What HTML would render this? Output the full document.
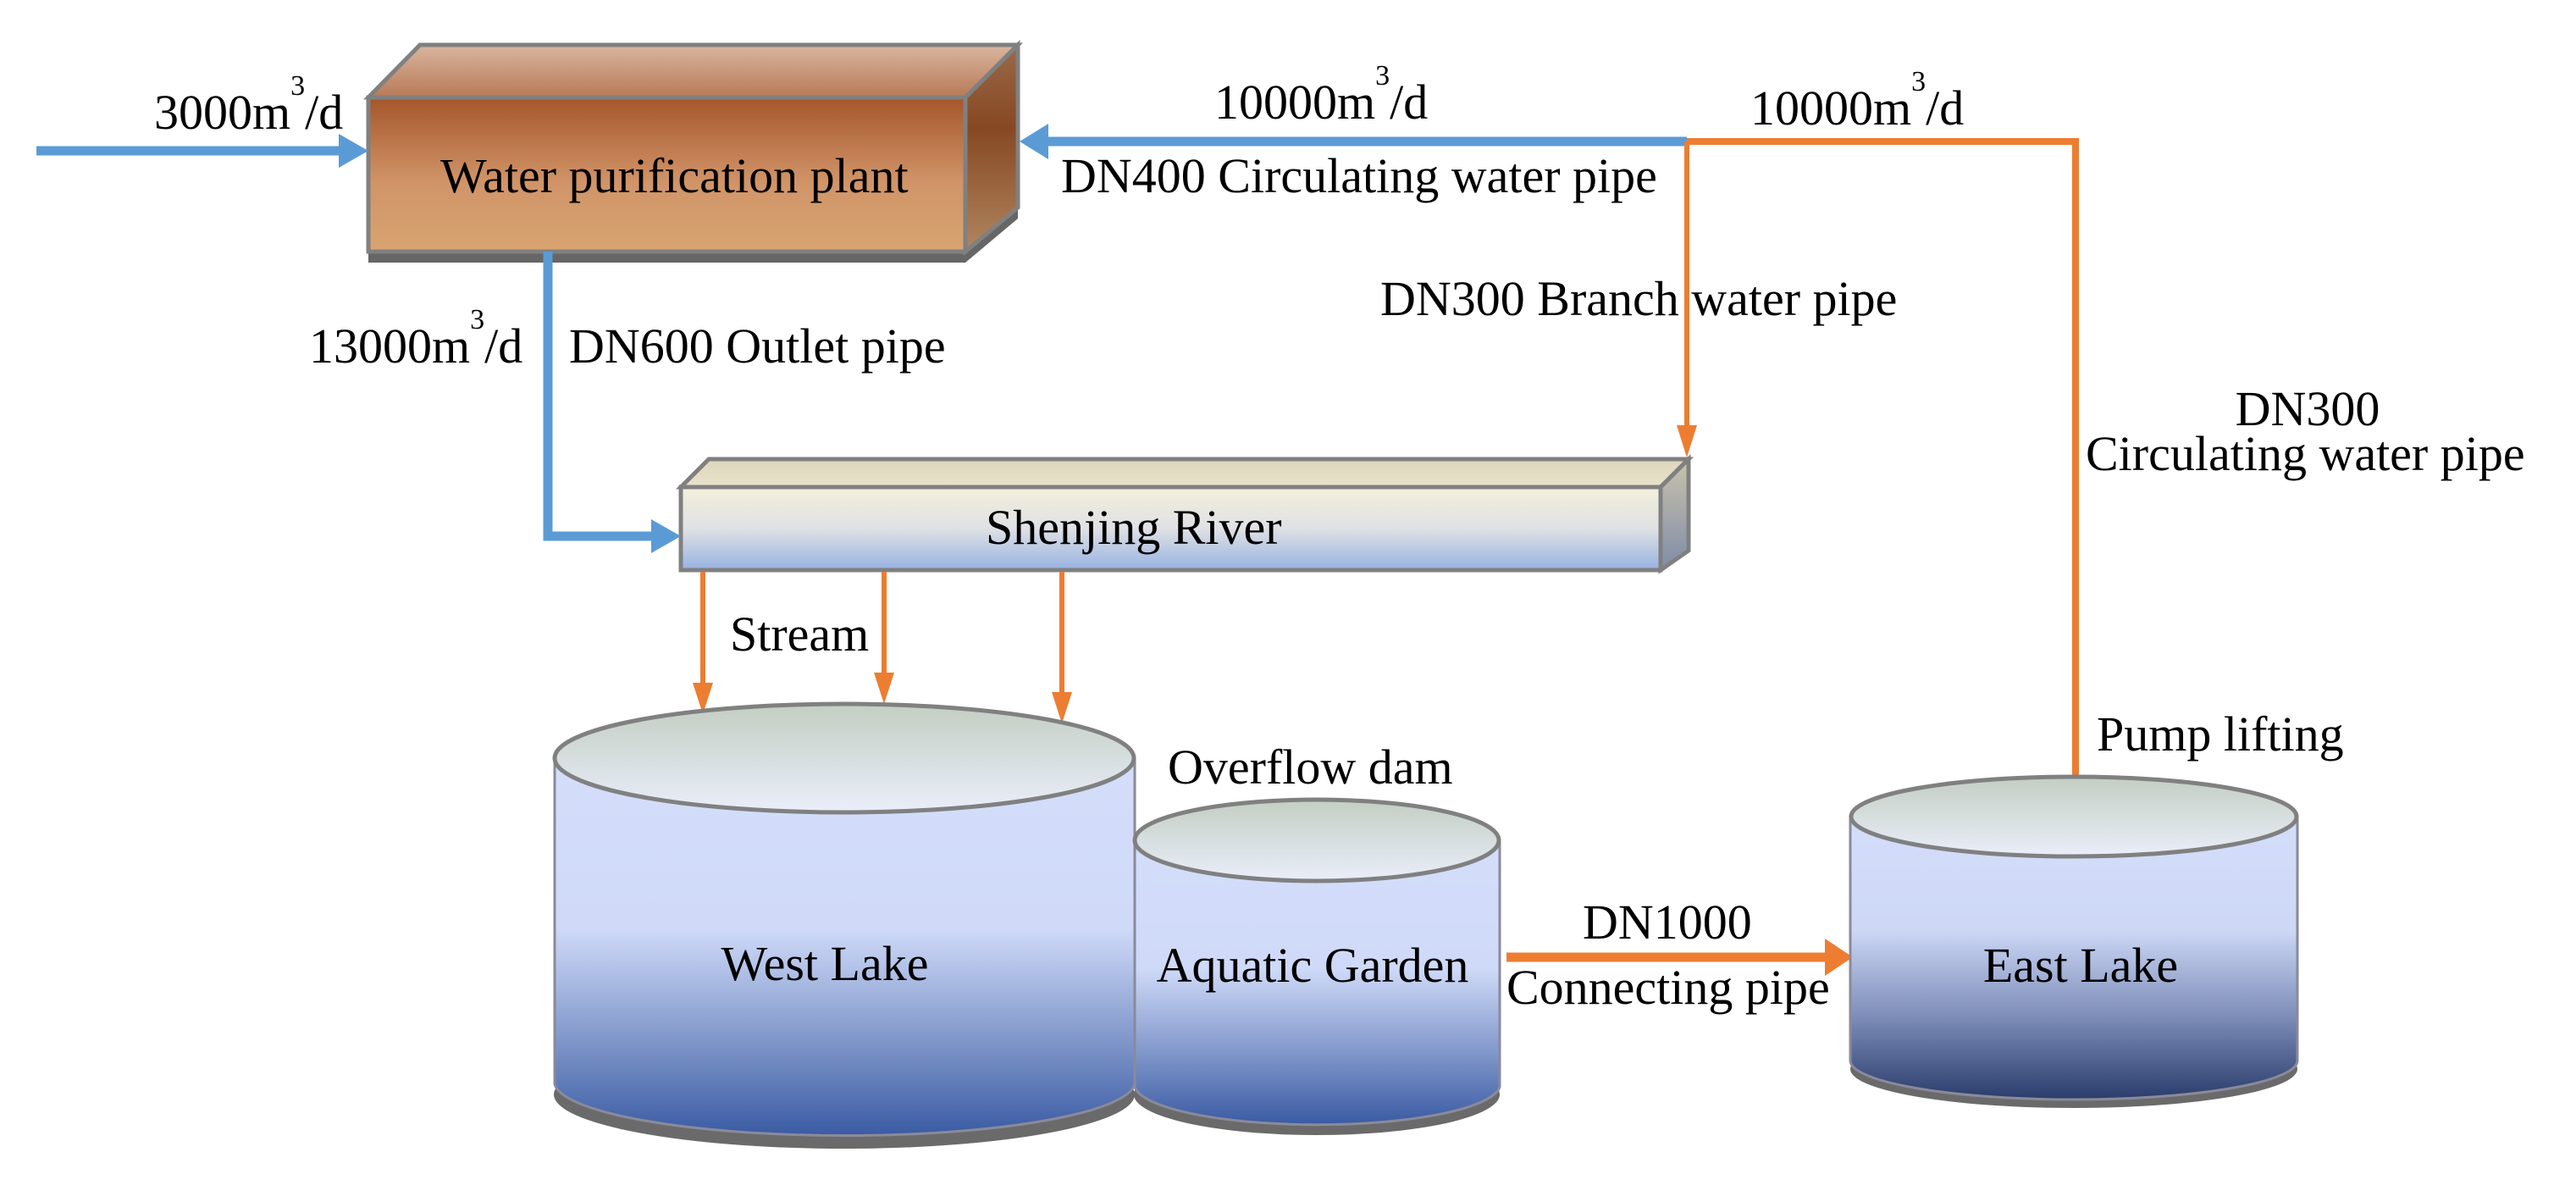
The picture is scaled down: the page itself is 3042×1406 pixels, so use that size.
<!DOCTYPE html>
<html><head><meta charset="utf-8"><style>
html,body{margin:0;padding:0;background:#fff;width:3042px;height:1406px;overflow:hidden}
svg{display:block}
text{font-family:"Liberation Serif","Times New Roman","DejaVu Serif",serif;font-size:58px;fill:#000}
</style></head><body>
<svg width="3042" height="1406" viewBox="0 0 3042 1406" xmlns="http://www.w3.org/2000/svg" font-family="Liberation Serif, serif">
<defs>
<linearGradient id="pf" x1="0" y1="0" x2="0" y2="1"><stop offset="0" stop-color="#a4562a"/><stop offset="0.55" stop-color="#d09468"/><stop offset="1" stop-color="#d8a470"/></linearGradient>
<linearGradient id="pt" x1="0" y1="0" x2="0" y2="1"><stop offset="0" stop-color="#d9b5a0"/><stop offset="1" stop-color="#b87a55"/></linearGradient>
<linearGradient id="ps" x1="0" y1="0" x2="0" y2="1"><stop offset="0" stop-color="#9a6a4a"/><stop offset="0.4" stop-color="#864822"/><stop offset="1" stop-color="#b08660"/></linearGradient>
<linearGradient id="sf" x1="0" y1="0" x2="0" y2="1"><stop offset="0" stop-color="#f4f0dc"/><stop offset="0.5" stop-color="#dfe1e4"/><stop offset="1" stop-color="#97b2e2"/></linearGradient>
<linearGradient id="st" x1="0" y1="0" x2="0" y2="1"><stop offset="0" stop-color="#ddd6bc"/><stop offset="1" stop-color="#e9e3cb"/></linearGradient>
<linearGradient id="ss" x1="0" y1="0" x2="0" y2="1"><stop offset="0" stop-color="#c9c3ac"/><stop offset="1" stop-color="#7f8ca8"/></linearGradient>
<linearGradient id="cb" x1="0" y1="0" x2="0" y2="1"><stop offset="0" stop-color="#d4defb"/><stop offset="0.45" stop-color="#cfdaf8"/><stop offset="0.7" stop-color="#8da2d2"/><stop offset="1" stop-color="#3a5ba3"/></linearGradient>
<linearGradient id="cbE" x1="0" y1="0" x2="0" y2="1"><stop offset="0" stop-color="#d4defb"/><stop offset="0.4" stop-color="#cdd8f6"/><stop offset="0.7" stop-color="#7f8fba"/><stop offset="1" stop-color="#2a3c6c"/></linearGradient>
<linearGradient id="ct" x1="0" y1="0" x2="0" y2="1"><stop offset="0" stop-color="#c3cec3"/><stop offset="1" stop-color="#eaeefa"/></linearGradient>
</defs>

<!-- Water purification plant -->
<polygon points="435,297 1140,297 1202,245 1202,258 1140,310 435,310" fill="#666"/>
<polygon points="435,115 496,53 1202,53 1140,115" fill="url(#pt)" stroke="#808080" stroke-width="5"/>
<polygon points="1140,115 1202,53 1202,245 1140,297" fill="url(#ps)" stroke="#808080" stroke-width="5"/>
<rect x="435" y="115" width="705" height="182" fill="url(#pf)" stroke="#808080" stroke-width="5"/>
<text x="520" y="227">Water purification plant</text>

<!-- Shenjing River -->
<polygon points="804,575 837,542 1994,542 1961,575" fill="url(#st)" stroke="#808080" stroke-width="5"/>
<polygon points="1961,575 1994,542 1994,650 1961,673" fill="url(#ss)" stroke="#808080" stroke-width="5"/>
<rect x="804" y="575" width="1157" height="98" fill="url(#sf)" stroke="#808080" stroke-width="5"/>
<text x="1164" y="642">Shenjing River</text>

<!-- Blue pipes -->
<g stroke="#5b9bd5" stroke-width="11" fill="none">
<line x1="43" y1="178" x2="405" y2="178"/>
<polyline points="647,297 647,633 776,633"/>
<line x1="1992" y1="167" x2="1236" y2="167"/>
</g>
<g fill="#5b9bd5">
<polygon points="435,178 400,158 400,198"/>
<polygon points="804,633 769,613 769,653"/>
<polygon points="1204,167 1238,146 1238,188"/>
</g>

<!-- Orange pipes -->
<g stroke="#ed7d31" fill="none">
<polyline points="1992,167 2451,167 2451,917" stroke-width="8"/>
<line x1="1992" y1="167" x2="1992" y2="505" stroke-width="6"/>
<line x1="830" y1="675" x2="830" y2="810" stroke-width="6"/>
<line x1="1044" y1="675" x2="1044" y2="798" stroke-width="6"/>
<line x1="1254" y1="675" x2="1254" y2="820" stroke-width="6"/>
<line x1="1779" y1="1130" x2="2160" y2="1130" stroke-width="11"/>
</g>
<g fill="#ed7d31">
<polygon points="1992,540 1980,502 2004,502"/>
<polygon points="830,843 818,806 842,806"/>
<polygon points="1044,831 1032,794 1056,794"/>
<polygon points="1254,854 1242,817 1266,817"/>
<polygon points="2188,1130 2155,1108 2155,1152"/>
</g>

<!-- West Lake -->
<ellipse cx="997" cy="1292" rx="343" ry="64" fill="#6a6a6a"/>
<path d="M655,895 L655,1280 A343,64 0 0 0 1340,1280 L1340,895 Z" fill="url(#cb)" stroke="#8a8a9a" stroke-width="3"/>
<ellipse cx="997" cy="895" rx="342" ry="64" fill="url(#ct)" stroke="#808080" stroke-width="5"/>
<text x="974" y="1157" text-anchor="middle">West Lake</text>

<!-- Aquatic Garden -->
<ellipse cx="1555" cy="1292" rx="216" ry="48" fill="#6a6a6a"/>
<path d="M1340,992 L1340,1283 A216,48 0 0 0 1771,1283 L1771,992 Z" fill="url(#cb)" stroke="#8a8a9a" stroke-width="3"/>
<ellipse cx="1555" cy="992" rx="215" ry="48" fill="url(#ct)" stroke="#808080" stroke-width="5"/>
<text x="1550" y="1159" text-anchor="middle">Aquatic Garden</text>

<!-- East Lake -->
<ellipse cx="2449" cy="1262" rx="264" ry="46" fill="#6a6a6a"/>
<path d="M2185,964 L2185,1252 A264,46 0 0 0 2713,1252 L2713,964 Z" fill="url(#cbE)" stroke="#8a8a9a" stroke-width="3"/>
<ellipse cx="2449" cy="964" rx="263" ry="47" fill="url(#ct)" stroke="#808080" stroke-width="5"/>
<text x="2457" y="1159" text-anchor="middle">East Lake</text>

<!-- Labels -->
<text x="182" y="152">3000m<tspan font-size="34" dy="-40">3</tspan><tspan dy="40">/d</tspan></text>
<text x="365" y="428">13000m<tspan font-size="34" dy="-40">3</tspan><tspan dy="40">/d</tspan></text>
<text x="672" y="428">DN600 Outlet pipe</text>
<text x="1434" y="140">10000m<tspan font-size="34" dy="-40">3</tspan><tspan dy="40">/d</tspan></text>
<text x="2067" y="147">10000m<tspan font-size="34" dy="-40">3</tspan><tspan dy="40">/d</tspan></text>
<text x="1253" y="227">DN400 Circulating water pipe</text>
<text x="1630" y="372">DN300 Branch water pipe</text>
<text x="2725" y="502" text-anchor="middle">DN300</text>
<text x="2463" y="555">Circulating water pipe</text>
<text x="862" y="768">Stream</text>
<text x="1379" y="925">Overflow dam</text>
<text x="2476" y="886">Pump lifting</text>
<text x="1869" y="1108">DN1000</text>
<text x="1779" y="1185">Connecting pipe</text>
</svg>
</body></html>
